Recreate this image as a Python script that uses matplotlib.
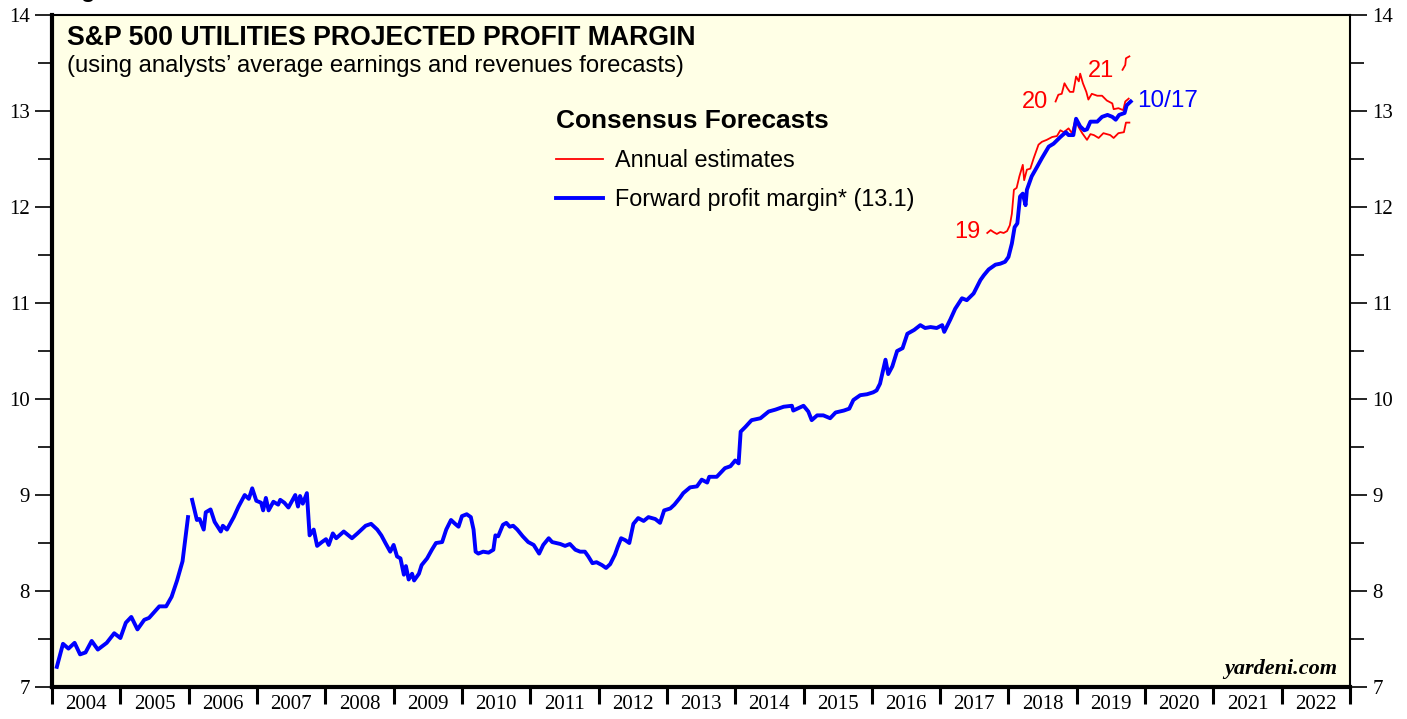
import numpy as np
import matplotlib
matplotlib.use('Agg')
import matplotlib.pyplot as plt
from matplotlib.ticker import MultipleLocator, FixedLocator, NullFormatter

# forward profit margin (weekly), year as decimal
fwd_year = [2004.07, 2004.16, 2004.24, 2004.33, 2004.41, 2004.49, 2004.58, 2004.67, 2004.80, 2004.91,
            2005.00, 2005.08, 2005.16, 2005.25, 2005.35, 2005.42, 2005.57, 2005.67, 2005.75, 2005.83,
            2005.91, 2005.99, np.nan,
            2006.05, 2006.12, 2006.16, 2006.22, 2006.25, 2006.32, 2006.38, 2006.47, 2006.50, 2006.56,
            2006.66, 2006.73, 2006.82, 2006.88, 2006.93, 2006.99, 2007.06, 2007.09, 2007.13, 2007.17,
            2007.24, 2007.31, 2007.34, 2007.40, 2007.46, 2007.56, 2007.60, 2007.63, 2007.67, 2007.73,
            2007.77, 2007.83, 2007.88, 2007.95, 2008.01, 2008.05, 2008.11, 2008.16, 2008.27, 2008.39,
            2008.47, 2008.59, 2008.67, 2008.76, 2008.82, 2008.88, 2008.95, 2009.00, 2009.05, 2009.10,
            2009.15, 2009.18, 2009.22, 2009.27, 2009.30, 2009.37, 2009.41, 2009.49, 2009.56, 2009.62,
            2009.71, 2009.77, 2009.84, 2009.90, 2009.95, 2010.00, 2010.07, 2010.13, 2010.17, 2010.20,
            2010.24, 2010.31, 2010.39, 2010.46, 2010.49, 2010.53, 2010.60, 2010.65, 2010.70, 2010.75,
            2010.81, 2010.89, 2010.97, 2011.05, 2011.13, 2011.19, 2011.27, 2011.32, 2011.44, 2011.51,
            2011.58, 2011.66, 2011.73, 2011.80, 2011.85, 2011.91, 2011.97, 2012.05, 2012.11, 2012.17,
            2012.24, 2012.28, 2012.33, 2012.39, 2012.45, 2012.51, 2012.58, 2012.66, 2012.73, 2012.83,
            2012.90, 2012.96, 2013.05, 2013.11, 2013.19, 2013.24, 2013.34, 2013.44, 2013.51, 2013.59,
            2013.62, 2013.73, 2013.85, 2013.93, 2014.00, 2014.05, 2014.08, 2014.15, 2014.24, 2014.37,
            2014.49, 2014.59, 2014.71, 2014.83, 2014.85, 2015.00, 2015.07, 2015.12, 2015.20, 2015.29,
            2015.39, 2015.47, 2015.59, 2015.67, 2015.73, 2015.83, 2015.93, 2016.02, 2016.07, 2016.12,
            2016.20, 2016.24, 2016.30, 2016.37, 2016.45, 2016.52, 2016.62, 2016.71, 2016.78, 2016.86,
            2016.95, 2017.03, 2017.06, 2017.15, 2017.22, 2017.32, 2017.39, 2017.49, 2017.59, 2017.64,
            2017.71, 2017.81, 2017.88, 2017.95, 2018.00, 2018.05, 2018.09, 2018.13, 2018.17, 2018.21,
            2018.25, 2018.27, 2018.34, 2018.42, 2018.49, 2018.59, 2018.66, 2018.76, 2018.84, 2018.88,
            2018.95, 2018.99, 2019.05, 2019.11, 2019.15, 2019.20, 2019.30, 2019.37, 2019.45, 2019.52,
            2019.57, 2019.62, 2019.70, 2019.73, 2019.79]
fwd_margin = [7.21, 7.45, 7.40, 7.46, 7.34, 7.36, 7.48, 7.39, 7.46, 7.56,
              7.51, 7.67, 7.73, 7.60, 7.70, 7.72, 7.84, 7.84, 7.94, 8.11,
              8.31, 8.77, np.nan,
              8.95, 8.74, 8.75, 8.64, 8.82, 8.85, 8.72, 8.62, 8.68, 8.64,
              8.77, 8.88, 9.00, 8.96, 9.07, 8.94, 8.92, 8.84, 8.97, 8.84,
              8.93, 8.90, 8.95, 8.92, 8.87, 9.00, 8.88, 8.99, 8.91, 9.02,
              8.58, 8.64, 8.47, 8.51, 8.54, 8.48, 8.60, 8.55, 8.62, 8.55,
              8.60, 8.68, 8.70, 8.64, 8.58, 8.50, 8.41, 8.48, 8.36, 8.34,
              8.17, 8.26, 8.12, 8.18, 8.11, 8.18, 8.27, 8.34, 8.43, 8.50,
              8.51, 8.64, 8.74, 8.70, 8.67, 8.78, 8.80, 8.77, 8.64, 8.41,
              8.39, 8.41, 8.40, 8.43, 8.58, 8.57, 8.69, 8.71, 8.67, 8.68,
              8.64, 8.57, 8.51, 8.48, 8.39, 8.48, 8.55, 8.51, 8.49, 8.47,
              8.49, 8.43, 8.41, 8.41, 8.36, 8.29, 8.30, 8.27, 8.24, 8.28,
              8.38, 8.46, 8.55, 8.53, 8.50, 8.70, 8.76, 8.73, 8.77, 8.75,
              8.71, 8.84, 8.86, 8.90, 8.97, 9.02, 9.08, 9.09, 9.16, 9.13,
              9.19, 9.19, 9.28, 9.30, 9.36, 9.33, 9.66, 9.71, 9.78, 9.80,
              9.87, 9.89, 9.92, 9.93, 9.88, 9.93, 9.87, 9.78, 9.83, 9.83,
              9.80, 9.86, 9.88, 9.90, 9.99, 10.04, 10.05, 10.07, 10.09, 10.16,
              10.41, 10.26, 10.34, 10.50, 10.53, 10.68, 10.72, 10.77, 10.74, 10.75,
              10.74, 10.77, 10.70, 10.83, 10.94, 11.05, 11.03, 11.10, 11.24, 11.29,
              11.35, 11.40, 11.41, 11.43, 11.48, 11.62, 11.79, 11.83, 12.11, 12.14,
              12.02, 12.18, 12.32, 12.42, 12.51, 12.63, 12.66, 12.73, 12.78, 12.75,
              12.75, 12.92, 12.84, 12.80, 12.81, 12.89, 12.89, 12.94, 12.96, 12.94,
              12.91, 12.96, 12.98, 13.06, 13.10]

# annual estimates
est19_year = [2017.69, 2017.74, 2017.78, 2017.83, 2017.88, 2017.93, 2017.98, 2018.02, 2018.05, 2018.08,
              2018.12, 2018.16, 2018.21, 2018.23, 2018.27, 2018.32, 2018.37, 2018.44, 2018.49, 2018.56,
              2018.64, 2018.71, 2018.76, 2018.81, 2018.88, 2018.93, 2018.98, 2019.03, 2019.08, 2019.15,
              2019.20, 2019.25, 2019.32, 2019.39, 2019.49, 2019.54, 2019.61, 2019.69, 2019.72, 2019.77]
est19 = [11.73, 11.76, 11.74, 11.72, 11.74, 11.73, 11.75, 11.81, 11.93, 12.18,
         12.20, 12.32, 12.44, 12.28, 12.39, 12.40, 12.51, 12.65, 12.68, 12.70,
         12.73, 12.74, 12.80, 12.78, 12.82, 12.77, 12.91, 12.83, 12.77, 12.70,
         12.76, 12.75, 12.72, 12.77, 12.75, 12.72, 12.77, 12.78, 12.88, 12.88]
est20_year = [2018.69, 2018.73, 2018.78, 2018.82, 2018.86, 2018.90, 2018.95, 2018.99, 2019.03, 2019.05,
              2019.09, 2019.14, 2019.17, 2019.22, 2019.30, 2019.37, 2019.44, 2019.52, 2019.54, 2019.61,
              2019.68, 2019.71, 2019.76]
est20 = [13.10, 13.17, 13.18, 13.29, 13.24, 13.20, 13.20, 13.36, 13.31, 13.39,
         13.29, 13.20, 13.12, 13.18, 13.16, 13.16, 13.11, 13.08, 13.02, 13.03,
         13.01, 13.10, 13.13]
est21_year = [2019.67, 2019.71, 2019.72, 2019.77]
est21 = [13.43, 13.48, 13.55, 13.57]

years = list(range(2004, 2023))

serif = 'Liberation Serif'
sans = 'Liberation Sans'

fig = plt.figure(figsize=(14.07, 7.19), dpi=100)
ax = fig.add_axes([0.037, 0.0445, 0.9225, 0.9345])
ax.set_facecolor('#ffffe6')

ax.plot(est19_year, est19, color='#ff0000', lw=1.3, label='Annual estimates')
ax.plot(est20_year, est20, color='#ff0000', lw=1.3)
ax.plot(est21_year, est21, color='#ff0000', lw=1.3)
ax.plot(fwd_year, fwd_margin, color='#0000ff', lw=2.8, label='Forward profit margin* (13.1)')

ax.set_xlim(2004, 2023)
ax.set_ylim(7, 14)

# x axis: ticks at year boundaries, labels mid-year
ax.xaxis.set_major_locator(FixedLocator(list(range(2004, 2024))))
ax.xaxis.set_major_formatter(NullFormatter())
ax.xaxis.set_minor_locator(FixedLocator([y + 0.5 for y in years]))
ax.set_xticklabels([str(y) for y in years], minor=True)
ax.tick_params(axis='x', which='major', direction='out', length=12, width=2.2, top=False)
ax.tick_params(axis='x', which='minor', length=0, pad=6, labelsize=15, top=False)

ax.yaxis.set_major_locator(MultipleLocator(1))
ax.yaxis.set_minor_locator(MultipleLocator(0.5))
ax.tick_params(axis='y', which='both', direction='out', left=True, right=True,
               labelleft=True, labelright=True, width=1.2)
ax.tick_params(axis='y', which='major', length=12, labelsize=15, pad=4)
ax.tick_params(axis='y', which='minor', length=10)
for lab in ax.get_xticklabels(minor=True) + ax.get_yticklabels():
    lab.set_fontfamily(serif)

for s in ax.spines.values():
    s.set_linewidth(1.5)
ax.spines['left'].set_linewidth(3)
ax.spines['bottom'].set_linewidth(3)

ax.text(0.0116, 0.985, 'S&P 500 UTILITIES PROJECTED PROFIT MARGIN', transform=ax.transAxes,
        fontsize=19.2, fontweight='bold', family=sans, va='top', ha='left')
ax.text(0.0116, 0.940, '(using analysts\u2019 average earnings and revenues forecasts)', transform=ax.transAxes,
        fontsize=17.2, family=sans, va='top', ha='left')

leg = ax.legend(loc='upper left', bbox_to_anchor=(0.381, 0.874), frameon=False,
                title='Consensus Forecasts', alignment='left',
                prop={'family': sans, 'size': 16.8}, handlelength=2.0,
                handletextpad=0.55, labelspacing=0.68, borderaxespad=0)
leg.get_title().set_fontweight('bold')
leg.get_title().set_fontsize(18.9)
leg.get_title().set_fontfamily(sans)

ax.text(2017.59, 11.74, '19', color='#ff0000', fontsize=17, family=sans, ha='right', va='center')
ax.text(2018.58, 13.09, '20', color='#ff0000', fontsize=17, family=sans, ha='right', va='center')
ax.text(2019.55, 13.42, '21', color='#ff0000', fontsize=17, family=sans, ha='right', va='center')
ax.text(2019.89, 13.11, '10/17', color='#0000ff', fontsize=17.5, family=sans, ha='left', va='center')

ax.text(0.99, 0.012, 'yardeni.com', transform=ax.transAxes, fontsize=16, family=serif,
        fontweight='bold', style='italic', ha='right', va='bottom')

# figure caption cut off at the top edge
fig.text(0.043, 1.004, 'Figure', fontsize=17, fontweight='bold', family=sans, ha='left', va='baseline')

fig.savefig('out.png', dpi=100)
